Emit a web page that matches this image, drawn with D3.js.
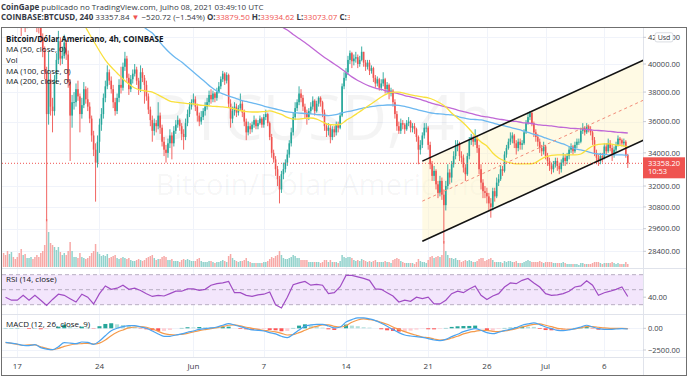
<!DOCTYPE html>
<html>
<head>
<meta charset="utf-8">
<script src="https://cdn.jsdelivr.net/npm/d3@7"></script>
<style>
  body { margin: 0; background: #fff; }
  svg { display: block; }
  text { font-family: "Open Sans", "Noto Sans", sans-serif; }
</style>
</head>
<body>
<svg id="chart" width="688" height="378"></svg>
<script>
// COINBASE:BTCUSD 4h candles, first candle opens 2021-05-15 20:00 UTC
const firstCandle = Date.UTC(2021, 4, 15, 20);
const firstOpen = 46900;

const closes = [
  46400,
  45800, 44500, 46900, 47500, 46500, 46400, // May 16
  45500, 44000, 43000, 43800, 42900, 43500, // May 17
  44500, 45300, 44800, 43500, 43000, 42900, // May 18
  42000, 41000, 39400, 36500, 38900, 37000, // May 19
  36700, 38900, 40300, 41700, 40400, 40600, // May 20
  41600, 40700, 38700, 36400, 37300, 37300, // May 21
  38200, 37700, 36500, 37100, 38200, 37500, // May 22
  37000, 36200, 35100, 34200, 33400, 34700, // May 23
  35800, 36500, 37600, 38400, 39400, 38800, // May 24
  38200, 37300, 36700, 37600, 38500, 38300, // May 25
  39800, 40400, 39000, 38200, 38900, 39300, // May 26
  39600, 38800, 38200, 39400, 39000, 38500, // May 27
  37700, 36800, 36100, 35400, 35900, 35700, // May 28
  36400, 35600, 34700, 34200, 34000, 34600, // May 29
  35100, 34600, 35400, 35800, 36100, 35700, // May 30
  35200, 35000, 35900, 36500, 37000, 37300, // May 31
  37500, 37000, 36400, 36000, 36300, 36700, // Jun 1
  37000, 37300, 37800, 37500, 37900, 37600, // Jun 2
  38000, 38400, 38900, 39300, 38800, 39200, // Jun 3
  37200, 36200, 36700, 37000, 36600, 36900, // Jun 4
  37200, 36600, 36000, 35300, 35700, 35500, // Jun 5
  35800, 36100, 35700, 35900, 36200, 35800, // Jun 6
  36300, 36500, 35900, 35000, 34000, 33600, // Jun 7
  33000, 32400, 31800, 32700, 33000, 33400, // Jun 8
  33900, 34600, 35300, 36300, 36900, 37300, // Jun 9
  37900, 37600, 37000, 36600, 36300, 36700, // Jun 10
  37000, 37400, 36700, 37200, 37600, 37300, // Jun 11
  36600, 35700, 35400, 35600, 35000, 35500, // Jun 12
  35300, 35800, 35600, 36400, 38400, 39000, // Jun 13
  39400, 40300, 40800, 40200, 40400, 40500, // Jun 14
  40000, 40300, 40900, 40100, 39800, 40100, // Jun 15
  39500, 39700, 39000, 38600, 38900, 38300, // Jun 16
  38600, 38900, 38200, 38500, 37900, 38100, // Jun 17
  37300, 36500, 35700, 35400, 35900, 35800, // Jun 18
  35500, 35900, 36000, 35600, 35700, 35500, // Jun 19
  35000, 34200, 34500, 35100, 35600, 35600, // Jun 20
  34500, 33300, 32600, 32900, 32100, 31600, // Jun 21
  32300, 31500, 30900, 32000, 32800, 32500, // Jun 22
  33300, 33800, 34400, 34600, 33800, 33700, // Jun 23
  33100, 32700, 33800, 34800, 35000, 34700, // Jun 24
  34900, 34300, 33000, 32200, 31700, 31600, // Jun 25
  31400, 31000, 30800, 31700, 31400, 32200, // Jun 26
  32400, 33000, 32900, 33900, 34300, 34700, // Jun 27
  34900, 35100, 34600, 34300, 34700, 34500, // Jun 28
  34600, 35300, 35900, 36300, 36600, 35900, // Jun 29
  35300, 35000, 34700, 34300, 34100, 34400, // Jun 30
  33800, 33500, 33200, 33000, 33300, 33500, // Jul 1
  33200, 33000, 33400, 33700, 33500, 33800, // Jul 2
  34200, 34400, 34100, 34500, 34700, 34700, // Jul 3
  35400, 35600, 35300, 35700, 35500, 35300, // Jul 4
  34800, 34000, 33700, 33500, 33800, 33700, // Jul 5
  34400, 34100, 34600, 34300, 33900, 34200, // Jul 6
  34500, 34900, 34800, 34600, 34700, 33879.5, // Jul 7
  33358.2 // Jul 8
];

const highs = [
  47600,
  46700, 46000, 47200, 49000, 47800, 46900,
  46600, 45700, 44300, 44400, 44000, 43900,
  44900, 45800, 45500, 45000, 43800, 43400,
  43500, 42300, 41300, 39800, 40900, 39300,
  37600, 39200, 40800, 42500, 42000, 41300,
  42200, 41800, 41000, 38900, 37800, 38000,
  38600, 38800, 37900, 37600, 38700, 38400,
  38300, 37300, 36400, 35400, 34600, 35100,
  36200, 36900, 37900, 38800, 39900, 39600,
  39100, 38500, 37600, 37900, 38900, 39800,
  40100, 40900, 40600, 39300, 39200, 39600,
  40000, 39800, 39000, 39900, 39700, 39200,
  38800, 37900, 37000, 36400, 36200, 36100,
  37300, 36600, 35800, 35000, 34500, 34900,
  35500, 35300, 35700, 36100, 36400, 36200,
  35900, 35500, 36200, 36800, 37300, 37500,
  37900, 37700, 37200, 36600, 36700, 36900,
  37300, 37600, 38100, 38200, 38100, 38000,
  38300, 38700, 39100, 39500, 39400, 39400,
  39300, 37500, 37000, 37300, 37200, 37100,
  37900, 37400, 36800, 36200, 36000, 35900,
  36000, 36400, 36200, 36100, 36400, 36300,
  36500, 36800, 36600, 36000, 35200, 34200,
  33800, 33200, 32600, 32900, 33400, 33600,
  34200, 34800, 35600, 36600, 37300, 37500,
  38400, 38200, 37800, 37200, 36800, 36900,
  37300, 37700, 37500, 37400, 37700, 37700,
  37400, 36800, 35900, 35900, 35800, 35700,
  35700, 36000, 36000, 36600, 38600, 39400,
  39700, 40600, 41000, 40900, 40700, 40900,
  40700, 40600, 41300, 40900, 40300, 40300,
  40300, 39900, 39800, 39200, 39100, 39000,
  38900, 39400, 39000, 38700, 38600, 38300,
  38200, 37500, 36700, 36000, 36200, 36100,
  35900, 36100, 36300, 36100, 35900, 35900,
  35600, 35100, 34800, 35300, 35900, 35900,
  35700, 34700, 33500, 33200, 33000, 32300,
  32600, 32500, 31800, 32300, 33300, 33000,
  33500, 34100, 34800, 34800, 34700, 34100,
  33900, 33300, 34000, 35000, 35200, 35100,
  35500, 35100, 34500, 33300, 32400, 32000,
  31900, 31600, 31300, 31900, 31900, 32500,
  32700, 33200, 33200, 34100, 34500, 34900,
  35300, 35300, 35200, 34800, 34900, 34900,
  34800, 35500, 36100, 36600, 36700, 36600,
  36000, 35500, 35200, 34900, 34500, 34700,
  34500, 34000, 33700, 33400, 33500, 33700,
  33700, 33400, 33600, 34000, 33900, 34000,
  34400, 34600, 34500, 34700, 34900, 34900,
  35600, 35900, 35700, 35900, 35800, 35700,
  35400, 35000, 34200, 33900, 34000, 34000,
  34600, 34600, 34900, 34800, 34500, 34400,
  34700, 35100, 35000, 34900, 34900, 34800,
  33934.62
];

const lows = [
  45900,
  45300, 43800, 44300, 46600, 46200, 45800,
  45100, 43600, 42100, 42800, 42400, 42700,
  43300, 44300, 44400, 43200, 42400, 42300,
  41600, 40500, 38900, 30000, 35800, 36400,
  35300, 36400, 38600, 40000, 39900, 40000,
  40400, 40300, 38300, 33500, 35600, 36800,
  37000, 37400, 35300, 36200, 36900, 37200,
  36700, 35900, 34700, 33800, 31100, 33100,
  34000, 35400, 36200, 37300, 38200, 38500,
  37900, 36900, 36400, 36500, 37300, 37900,
  38100, 39500, 38700, 37800, 38000, 38600,
  39100, 38500, 37800, 38000, 38700, 37200,
  37400, 36500, 35700, 34700, 35100, 35300,
  35500, 35200, 34400, 33800, 33400, 33700,
  34300, 33600, 34400, 35200, 35600, 35400,
  34800, 34200, 34800, 35700, 36300, 36800,
  37100, 36700, 36000, 35700, 35800, 36100,
  36400, 36800, 37100, 37200, 37300, 37300,
  37400, 37900, 38200, 38700, 38500, 38600,
  36900, 35600, 35900, 36400, 36300, 36400,
  36700, 36300, 35700, 34800, 35100, 35200,
  35300, 35600, 35500, 35500, 35800, 35600,
  35600, 36100, 35700, 34800, 33700, 33400,
  32600, 32000, 31000, 31600, 32400, 32800,
  33200, 33700, 34400, 35100, 36100, 36700,
  37100, 37300, 36700, 36200, 35800, 36100,
  36500, 36800, 36400, 36600, 37000, 37000,
  36300, 35400, 35000, 35100, 34600, 34800,
  35000, 35100, 35300, 35500, 36300, 38200,
  38800, 39200, 40000, 39700, 39900, 40100,
  39700, 39800, 40200, 39800, 39500, 39600,
  39200, 39300, 38700, 38300, 38400, 38100,
  38100, 38400, 37900, 37900, 37500, 37700,
  37000, 36200, 35400, 35200, 35200, 35500,
  35200, 35400, 35700, 35300, 35300, 35200,
  34700, 33300, 33900, 34300, 34900, 35300,
  34200, 33000, 32300, 32300, 31800, 31300,
  31400, 31200, 28800, 30600, 31800, 32100,
  32200, 33100, 33600, 34100, 33500, 33400,
  32800, 32300, 32600, 33600, 34500, 34400,
  34500, 34000, 32700, 31800, 31300, 31300,
  31000, 30600, 30200, 30600, 31100, 31300,
  32000, 32300, 32600, 32800, 33700, 34200,
  34500, 34600, 34300, 33900, 34100, 34200,
  34200, 34500, 35200, 35800, 36100, 35700,
  35000, 34700, 34400, 34000, 33800, 33900,
  33600, 33200, 32900, 32700, 32800, 33100,
  32900, 32700, 32800, 33200, 33200, 33300,
  33600, 34000, 33900, 34000, 34300, 34500,
  34600, 35200, 35100, 35200, 35300, 35100,
  34500, 33800, 33300, 33200, 33300, 33400,
  33600, 33900, 34000, 34100, 33500, 33700,
  34000, 34400, 34500, 34400, 34400, 33700,
  33073.07
];

// volume per candle, thousand BTC
const volumes = [
  14,
  12, 16, 13, 15, 10, 8,   10, 14, 18, 12, 13, 9,   9, 10, 8, 10, 12, 10,
  14, 16, 22, 48, 35, 24,  22, 20, 17, 20, 15, 12,  14, 12, 16, 25, 16, 10,
  10, 9, 14, 10, 9, 8,     9, 11, 14, 16, 23, 15,   13, 11, 12, 11, 13, 9,
  10, 11, 12, 9, 8, 9,     10, 9, 8, 9, 7, 6,       6, 7, 8, 7, 6, 7,
  9, 10, 11, 12, 9, 7,     8, 8, 10, 11, 10, 7,     7, 8, 6, 6, 6, 5,
  7, 8, 7, 8, 7, 6,        6, 6, 8, 9, 6, 5,        5, 5, 6, 6, 5, 4,
  5, 5, 6, 7, 6, 5,        11, 13, 9, 7, 6, 5,      6, 6, 7, 9, 6, 5,
  4, 4, 4, 4, 4, 4,        5, 5, 6, 8, 10, 9,       11, 12, 16, 12, 9, 8,
  8, 9, 10, 12, 11, 9,     9, 7, 7, 7, 7, 5,        5, 5, 5, 5, 5, 4,
  5, 7, 7, 5, 7, 5,        5, 5, 4, 6, 12, 10,      9, 10, 10, 9, 7, 6,
  7, 6, 8, 7, 6, 5,        6, 5, 6, 7, 5, 5,        5, 5, 6, 5, 5, 4,
  7, 8, 9, 8, 6, 5,        4, 4, 4, 4, 4, 3,        5, 8, 6, 5, 5, 4,
  7, 10, 11, 9, 10, 11,    10, 12, 26, 16, 12, 9,   9, 8, 9, 7, 7, 5,
  6, 7, 6, 7, 6, 5,        5, 6, 8, 9, 9, 6,        7, 8, 9, 7, 5, 5,
  5, 5, 4, 6, 5, 6,        6, 5, 5, 6, 4, 4,        4, 5, 6, 7, 6, 5,
  5, 5, 5, 6, 5, 4,        5, 5, 5, 5, 4, 4,        4, 4, 4, 5, 4, 3,
  3, 3, 3, 3, 3, 2,        4, 4, 3, 3, 3, 3,        4, 5, 5, 5, 4, 3,
  4, 4, 4, 4, 5, 4,        3, 4, 3, 3, 3, 5,
  3
];

// moving averages read every 12h
const ma50Start = Date.UTC(2021, 4, 22);
const ma50 = [44400, 43350, 42490, 41720, 40960, 40290, 39780, 39350, 38920, 38560, 38280, 38140,
  38070, 38000, 37800, 37590, 37380, 37310, 37250, 37210, 37180, 37110, 37080, 37040, 37010, 36980,
  36940, 36840, 36740, 36670, 36640, 36640, 36670, 36710, 36610, 36480, 36280, 36170, 36170, 36210,
  36240, 36170, 35980, 35810, 35780, 35810, 36080, 36310, 36570, 36840, 37110, 37380, 37660, 37870,
  38000, 38000, 37900, 37800, 37730, 37660, 37590, 37450, 37250, 36980, 36570, 36240, 35910, 35520,
  35070, 34680, 34430, 33990, 33680, 33500, 33380, 33320, 33320, 33320, 33350, 33560, 33750, 33840,
  33870, 33870, 33870, 33870, 33930, 34180, 34430, 34530, 34560, 34560, 34490, 34460, 34370];
const ma100Start = Date.UTC(2021, 4, 27, 12);
const ma100 = [43050, 42640, 42330, 41790, 41260, 40810, 40440, 40150, 39780, 39420, 39060, 38710,
  38350, 38070, 37870, 37730, 37590, 37450, 37350, 37250, 37150, 37040, 36940, 36840, 36740, 36640,
  36600, 36570, 36540, 36510, 36470, 36440, 36400, 36440, 36540, 36640, 36710, 36810, 36910, 36980,
  37040, 37080, 37110, 37110, 37080, 37010, 36910, 36810, 36710, 36610, 36540, 36510, 36470, 36440,
  36340, 36240, 36170, 36140, 36110, 36010, 35910, 35810, 35720, 35620, 35520, 35420, 35300, 35170,
  35070, 34940, 34810, 34680, 34560, 34400, 34270, 34180, 34090, 33990, 33930, 33900, 33870, 33870,
  33870, 33840];
const ma200Start = Date.UTC(2021, 5, 8, 12);
const ma200 = [42830, 42560, 42220, 41910, 41610, 41260, 40920, 40590, 40290, 40000, 39710, 39390,
  39070, 38810, 38600, 38420, 38280, 38180, 38070, 37970, 37870, 37760, 37660, 37560, 37450, 37310,
  37180, 37080, 36980, 36880, 36770, 36670, 36570, 36470, 36370, 36310, 36240, 36170, 36110, 36040,
  36010, 35940, 35910, 35850, 35780, 35750, 35720, 35650, 35620, 35580, 35550, 35520, 35490, 35450,
  35420, 35390, 35360, 35320, 35290, 35260];

// oscillators read every 12h from 2021-05-16 00:00
const oscStart = Date.UTC(2021, 4, 16);
const rsi = [40, 36, 36, 42.5, 36, 42.5, 36, 29, 37, 44, 42.5, 38, 33.6, 44, 40, 31, 44.7, 55, 50.5, 52,
  56, 50.5, 52, 49, 44.7, 41, 42.5, 41.6, 44.7, 48, 48, 51, 51, 49, 50.5, 56, 58, 59, 61, 46, 46, 42.5,
  41, 43, 44, 47, 30, 25.6, 40, 56.7, 59, 61, 56, 57, 56, 44.7, 46, 54, 69, 69, 67, 65, 62.5, 51, 50.5,
  46, 41.6, 33.6, 36, 34.5, 40, 38, 40, 31, 31, 36, 44.7, 48, 46, 51, 55, 42.5, 37, 41.6, 44.7, 53.6,
  59, 58, 62.5, 65, 59, 53.6, 44.7, 42.5, 43, 44.7, 48, 53.6, 55, 62, 56, 42.5, 46, 48, 50.5, 53.6, 41];
const macd = [-1620, -1700, -1810, -1960, -2000, -1890, -2230, -2390, -2460, -2120, -1660, -1700, -1770,
  -1580, -1620, -1850, -1460, -850, -270, 0, 190, 310, 310, 150, 0, -310, -650, -920, -920, -770, -650,
  -460, -310, -120, -40, 40, 150, 350, 540, 385, 190, 0, -190, -230, -310, -500, -650, -920, -1080, -690,
  -190, 230, 385, 460, 460, 270, 40, 150, 730, 1000, 1200, 1200, 1080, 890, 580, 230, -150, -500, -770,
  -890, -960, -1040, -1190, -1350, -1420, -1270, -960, -690, -390, -190, -40, -230, -500, -620, -460,
  -270, -120, 80, 350, 500, 620, 420, 150, -40, -230, -270, -190, -40, 150, 350, 150, -40, -120, -120,
  -80, -40, -80];
const signal = [-1650, -1730, -1850, -1960, -1920, -1920, -2120, -2310, -2460, -2310, -2080, -1920, -1810,
  -1770, -1730, -1810, -1700, -1350, -850, -460, -190, 40, 150, 190, 120, -80, -350, -620, -730, -770,
  -690, -580, -420, -270, -150, -40, 80, 190, 350, 385, 270, 120, 0, -120, -230, -310, -420, -580, -770,
  -730, -500, -230, 40, 230, 385, 385, 230, 150, 300, 690, 960, 1080, 1000, 890, 690, 460, 150, -120,
  -390, -620, -810, -1000, -1080, -1230, -1350, -1310, -1120, -920, -650, -460, -350, -230, -230, -350,
  -390, -310, -190, -40, 150, 310, 460, 500, 350, 190, 0, -80, -120, -80, 80, 190, 190, 120, 40, 0, 0,
  0, -40];

// ascending channel drawing (time, price anchors)
const channelTimes = [Date.UTC(2021, 5, 20, 12), Date.UTC(2021, 6, 9, 8)];
const channelUpper = [33490, 40280];
const channelLower = [28930, 34800];

const lastPrice = 33358.2;
const priceTicks = [42000, 40000, 38000, 36000, 34000, 32000, 30800, 29600, 28400];
const rsiTicks = [40];
const macdTicks = [0, -2500];
const tickDates = [Date.UTC(2021, 4, 17), Date.UTC(2021, 4, 24), Date.UTC(2021, 5, 1), Date.UTC(2021, 5, 7),
  Date.UTC(2021, 5, 14), Date.UTC(2021, 5, 21), Date.UTC(2021, 5, 26), Date.UTC(2021, 6, 1), Date.UTC(2021, 6, 6)];
const tickLabels = ['17', '24', 'Jun', '7', '14', '21', '26', 'Jul', '6'];

const H4 = 4 * 3600e3, H12 = 12 * 3600e3;
const UP = '#26a69a', DOWN = '#ef5350';

const svg = d3.select('#chart');
const paneL = 2, paneR = 643;
const mainTop = 27, mainBot = 268, rsiBot = 313.5, macdBot = 357, axisBot = 375.5;

const x = d3.scaleUtc()
  .domain([new Date(Date.UTC(2021, 4, 17)), new Date(Date.UTC(2021, 6, 6))])
  .range([17.3, 604.3]);
const y = d3.scaleLog().domain([28400, 40000]).range([251.3, 64]);
const yVol = d3.scaleLinear().domain([0, 48]).range([mainBot - 1, mainBot - 49]);
const yRsi = d3.scaleLinear().domain([30, 70]).range([304.7, 274.7]);
const yMacd = d3.scaleLinear().domain([-2500, 0]).range([350, 328.3]);

const defs = svg.append('defs');
function clip(id, top, bot) {
  defs.append('clipPath').attr('id', id)
    .append('rect').attr('x', paneL).attr('y', top).attr('width', paneR - paneL).attr('height', bot - top);
}
clip('cMain', mainTop, mainBot);
clip('cRsi', mainBot, rsiBot);
clip('cMacd', rsiBot, macdBot);

const candles = closes.map((c, i) => ({
  t: new Date(firstCandle + i * H4),
  o: i ? closes[i - 1] : firstOpen,
  c: c, h: highs[i], l: lows[i], v: volumes[i]
}));

// grid
const grid = svg.append('g').attr('stroke', '#f0f3fa').attr('stroke-width', 1);
grid.selectAll('.vg').data(tickDates).enter().append('line')
  .attr('x1', d => Math.round(x(d)) + 0.5).attr('x2', d => Math.round(x(d)) + 0.5)
  .attr('y1', mainTop).attr('y2', macdBot);
grid.selectAll('.hg').data(priceTicks).enter().append('line')
  .attr('x1', paneL).attr('x2', paneR)
  .attr('y1', d => Math.round(y(d)) + 0.5).attr('y2', d => Math.round(y(d)) + 0.5);
grid.selectAll('.mg').data(macdTicks).enter().append('line')
  .attr('x1', paneL).attr('x2', paneR)
  .attr('y1', d => Math.round(yMacd(d)) + 0.5).attr('y2', d => Math.round(yMacd(d)) + 0.5);

// watermark
const wm = svg.append('g').attr('fill', '#000').attr('fill-opacity', 0.045).attr('text-anchor', 'middle');
wm.append('text').attr('x', 321).attr('y', 140).style('font-size', '62px').text('BTCUSD, 4h');
wm.append('text').attr('x', 321).attr('y', 195).style('font-size', '29px').text('Bitcoin/Dólar Americano');

const main = svg.append('g').attr('clip-path', 'url(#cMain)');

// channel fill
const cx0 = x(new Date(channelTimes[0])), cx1 = x(new Date(channelTimes[1]));
const uy0 = y(channelUpper[0]), uy1 = y(channelUpper[1]);
const ly0 = y(channelLower[0]), ly1 = y(channelLower[1]);
main.append('path')
  .attr('d', `M${cx0},${uy0}L${cx1},${uy1}L${cx1},${ly1}L${cx0},${ly0}Z`)
  .attr('fill', '#fff3c4').attr('fill-opacity', 0.45);

// volume
main.selectAll('.vol').data(candles).enter().append('rect')
  .attr('x', d => x(d.t) - 0.75).attr('width', 1.5)
  .attr('y', d => yVol(d.v)).attr('height', d => yVol(0) - yVol(d.v))
  .attr('fill', d => d.c >= d.o ? '#92d2cc' : '#f7a9a7');

// candles
const cg = main.selectAll('.cd').data(candles).enter().append('g')
  .attr('fill', d => d.c >= d.o ? UP : DOWN)
  .attr('stroke', d => d.c >= d.o ? UP : DOWN);
cg.append('line')
  .attr('x1', d => x(d.t)).attr('x2', d => x(d.t))
  .attr('y1', d => y(Math.max(d.h, d.o, d.c))).attr('y2', d => y(Math.min(d.l, d.o, d.c)))
  .attr('stroke-width', 0.9);
cg.append('rect')
  .attr('x', d => x(d.t) - 0.8).attr('width', 1.6)
  .attr('y', d => y(Math.max(d.o, d.c)))
  .attr('height', d => Math.max(0.8, y(Math.min(d.o, d.c)) - y(Math.max(d.o, d.c))))
  .attr('stroke', 'none');

// moving averages
function maLine(vals, start, color) {
  const line = d3.line()
    .x((v, i) => x(new Date(start + i * H12)))
    .y(v => y(v))
    .curve(d3.curveMonotoneX);
  main.append('path').attr('d', line(vals)).attr('fill', 'none')
    .attr('stroke', color).attr('stroke-width', 1.3);
}
maLine(ma200, ma200Start, '#c068d6');
maLine(ma100, ma100Start, '#6cb8f0');
maLine(ma50, ma50Start, '#f9e03c');

// channel lines
main.append('line').attr('x1', cx0).attr('y1', uy0).attr('x2', cx1).attr('y2', uy1)
  .attr('stroke', '#131313').attr('stroke-width', 1.6);
main.append('line').attr('x1', cx0).attr('y1', ly0).attr('x2', cx1).attr('y2', ly1)
  .attr('stroke', '#131313').attr('stroke-width', 1.6);
main.append('line').attr('x1', cx0).attr('y1', (uy0 + ly0) / 2).attr('x2', cx1).attr('y2', (uy1 + ly1) / 2)
  .attr('stroke', '#f28b78').attr('stroke-width', 1).attr('stroke-dasharray', '3,3');

// last price line
main.append('line').attr('x1', paneL).attr('x2', paneR)
  .attr('y1', y(lastPrice)).attr('y2', y(lastPrice))
  .attr('stroke', DOWN).attr('stroke-width', 1).attr('stroke-dasharray', '1,2');

// legend
const legend = [
  ['Bitcoin/Dólar Americano, 4h, COINBASE', 'bold'],
  ['MA (50, close, 0)', 'normal'],
  ['Vol', 'normal'],
  ['MA (100, close, 0)', 'normal'],
  ['MA (200, close, 0)', 'normal']
];
svg.append('g').selectAll('text').data(legend).enter().append('text')
  .attr('x', 6).attr('y', (d, i) => 41.5 + i * 10.7)
  .attr('font-weight', d => d[1]).style('font-size', '8px').attr('fill', '#131722')
  .text(d => d[0]);

// RSI pane
const rsiG = svg.append('g').attr('clip-path', 'url(#cRsi)');
rsiG.append('rect').attr('x', paneL).attr('width', paneR - paneL)
  .attr('y', yRsi(70)).attr('height', yRsi(30) - yRsi(70)).attr('fill', '#f3e6fc');
rsiG.selectAll('.band').data([70, 50, 30]).enter().append('line')
  .attr('x1', paneL).attr('x2', paneR).attr('y1', d => yRsi(d)).attr('y2', d => yRsi(d))
  .attr('stroke', '#b7adc2').attr('stroke-width', 1).attr('stroke-dasharray', '4,3');
rsiG.append('path')
  .attr('d', d3.line().x((v, i) => x(new Date(oscStart + i * H12))).y(v => yRsi(v))(rsi))
  .attr('fill', 'none').attr('stroke', '#a04cc4').attr('stroke-width', 1.2);
svg.append('text').attr('x', 6).attr('y', 281.5).style('font-size', '8px').attr('fill', '#131722')
  .text('RSI (14, close)');

// MACD pane
const macdG = svg.append('g').attr('clip-path', 'url(#cMacd)');
const hist = macd.map((m, i) => m - signal[i]);
macdG.selectAll('.hist').data(hist).enter().append('rect')
  .attr('x', (h, i) => x(new Date(oscStart + i * H12)) - 2)
  .attr('width', 4)
  .attr('y', h => Math.min(yMacd(0), yMacd(h)))
  .attr('height', h => Math.abs(yMacd(h) - yMacd(0)))
  .attr('fill', (h, i) => {
    const prev = i ? hist[i - 1] : h;
    if (h >= 0) return h >= prev ? '#26a69a' : '#b2dfdb';
    return h < prev ? '#ff5252' : '#ffcdd2';
  });
const oscLine = d3.line().x((v, i) => x(new Date(oscStart + i * H12))).y(v => yMacd(v)).curve(d3.curveMonotoneX);
macdG.append('path').attr('d', oscLine(signal)).attr('fill', 'none').attr('stroke', '#f59a4a').attr('stroke-width', 1.2);
macdG.append('path').attr('d', oscLine(macd)).attr('fill', 'none').attr('stroke', '#4aa3f0').attr('stroke-width', 1.2);
svg.append('text').attr('x', 6).attr('y', 327).style('font-size', '8px').attr('fill', '#131722')
  .text('MACD (12, 26, close, 9)');

// separators and frame
const sep = svg.append('g').attr('stroke', '#e0e3eb').attr('stroke-width', 1);
[mainBot, rsiBot, macdBot].forEach(v => {
  sep.append('line').attr('x1', 1.5).attr('x2', 686.5).attr('y1', Math.round(v) + 0.5).attr('y2', Math.round(v) + 0.5);
});
sep.append('line').attr('x1', paneR + 0.5).attr('x2', paneR + 0.5).attr('y1', mainTop).attr('y2', axisBot);

// price axis
const fmt = d3.format('.2f');
const axisText = '#3b3e48';
function rightTicks(vals, scale) {
  vals.forEach(v => {
    const yy = scale(v);
    svg.append('line').attr('x1', paneR).attr('x2', paneR + 3).attr('y1', yy).attr('y2', yy).attr('stroke', '#c9ccd4');
    svg.append('text').attr('x', 648).attr('y', yy).attr('dy', '0.35em')
      .style('font-size', '7.5px').attr('fill', axisText).text(fmt(v).replace('-', '−'));
  });
}
rightTicks(priceTicks, y);
rightTicks(rsiTicks, yRsi);
rightTicks(macdTicks, yMacd);

// currency badge
svg.append('rect').attr('x', 655).attr('y', y(42000) - 4.6).attr('width', 18).attr('height', 9.2).attr('rx', 2)
  .attr('fill', '#fff').attr('stroke', '#d1d4dc').attr('stroke-width', 0.8);
svg.append('text').attr('x', 664).attr('y', y(42000)).attr('dy', '0.35em').attr('text-anchor', 'middle')
  .style('font-size', '7px').attr('fill', axisText).text('Usd');

// last price label
const ly = y(lastPrice);
svg.append('rect').attr('x', paneR).attr('y', ly - 6).attr('width', 42).attr('height', 21).attr('fill', DOWN);
svg.append('text').attr('x', 648).attr('y', ly).attr('dy', '0.35em').style('font-size', '7.5px').attr('fill', '#fff')
  .text(fmt(lastPrice));
svg.append('text').attr('x', 648).attr('y', ly + 8.5).attr('dy', '0.35em').style('font-size', '7.5px').attr('fill', '#fff')
  .text('10:53');

// time axis
svg.append('g').selectAll('text').data(tickDates).enter().append('text')
  .attr('x', d => x(d)).attr('y', 369).attr('text-anchor', 'middle')
  .style('font-size', '8px').attr('fill', axisText)
  .text((d, i) => tickLabels[i]);

// outer frame
svg.append('rect').attr('x', 1.5).attr('y', mainTop + 0.5).attr('width', 685).attr('height', axisBot - mainTop - 0.5)
  .attr('fill', 'none').attr('stroke', '#6f6f6f').attr('stroke-width', 1);

// header
defs.append('clipPath').attr('id', 'cHead').append('rect').attr('x', 0).attr('y', 0).attr('width', 350).attr('height', 27);
const head = svg.append('g').attr('clip-path', 'url(#cHead)').style('font-size', '8px');
const h1 = head.append('text').attr('x', 1).attr('y', 9.5).attr('fill', '#363a45');
h1.append('tspan').attr('font-weight', 'bold').text('CoinGape');
h1.append('tspan').text(' publicado no TradingView.com, Julho 08, 2021 03:49:10 UTC');
const quote = [
  ['COINBASE:BTCUSD, 240', 'bold', '#363a45'],
  [' 33357.84 ', 'normal', '#363a45'],
  ['▼', 'normal', DOWN],
  [' −520.72 (−1.54%) ', 'normal', '#363a45'],
  ['O:', 'bold', '#363a45'], ['33879.50', 'normal', DOWN],
  [' H:', 'bold', '#363a45'], ['33934.62', 'normal', DOWN],
  [' L:', 'bold', '#363a45'], ['33073.07', 'normal', DOWN],
  [' C:', 'bold', '#363a45'], ['33358.20', 'normal', DOWN]
];
const h2 = head.append('text').attr('x', 1).attr('y', 19.5);
quote.forEach(q => h2.append('tspan').attr('font-weight', q[1]).attr('fill', q[2]).text(q[0]));
</script>
</body>
</html>
